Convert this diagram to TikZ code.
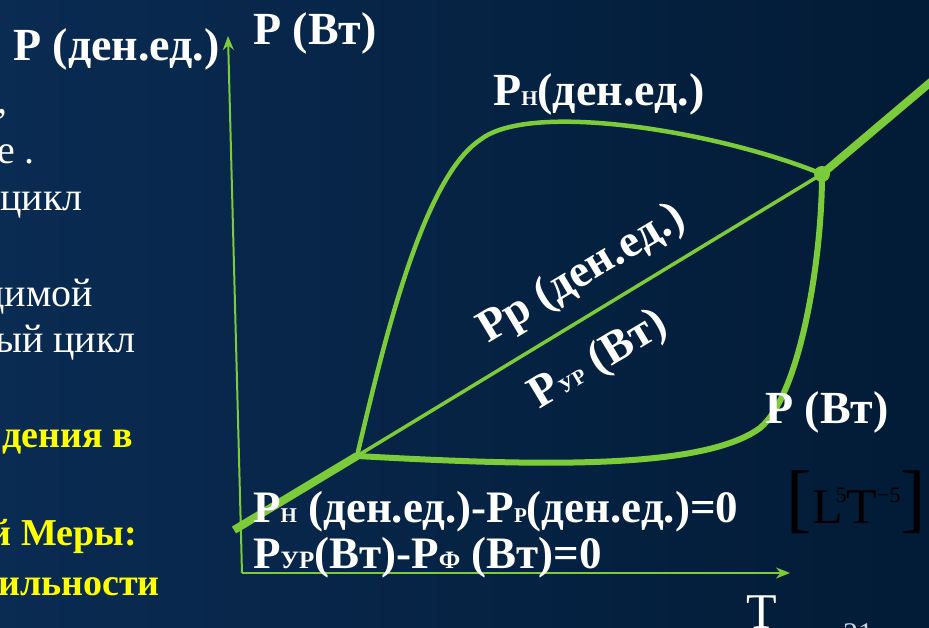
\documentclass[tikz,border=0pt]{standalone}
\usepackage{fontspec}
\setmainfont{Liberation Serif}
\usepackage{xcolor}
\usepackage{tikz}
\usetikzlibrary{arrows.meta, calc}
\definecolor{PGreen}{HTML}{7CCB3A}
\definecolor{PYellow}{HTML}{FFFF00}
\definecolor{PBgLeft}{HTML}{0A2B52}
\definecolor{PBgMid}{HTML}{003E73}
\definecolor{PBgRight}{HTML}{021B36}
\definecolor{PNum}{HTML}{C8D4E4}
\newcommand{\idx}[1]{{\fontsize{21}{21}\selectfont #1}}
\newcommand{\idxw}[1]{{\fontsize{25}{25}\selectfont #1}}
\newcommand{\brk}[1]{{\fontsize{76}{76}\selectfont #1}}
\newcommand{\pw}[1]{\raisebox{21pt}{\fontsize{22}{22}\selectfont #1}}

\begin{document}
\begin{tikzpicture}[x=1pt, y=-1pt,
    lbl/.style={text=white, font=\bfseries\fontsize{46}{46}\selectfont,
                inner sep=0pt, anchor=base west},
    eqn/.style={lbl, font=\bfseries\fontsize{45}{45}\selectfont},
    frag/.style={text=white, font=\fontsize{40}{40}\selectfont,
                 inner sep=0pt, anchor=base east},
    note/.style={text=PYellow, font=\bfseries\fontsize{38}{38}\selectfont,
                 inner sep=0pt, anchor=base east},
    axisarrow/.style={PGreen, line width=2pt, -{Stealth[length=14pt, width=11pt]}},
    mainline/.style={PGreen, line width=8pt},
    loopline/.style={PGreen, line width=4.5pt}]
  \useasboundingbox (0,0) rectangle (929,627);
  \clip (0,0) rectangle (929,627);
  \shade[left color=PBgLeft, middle color=PBgMid, right color=PBgRight]
    (0,0) rectangle (929,627);

  \node[frag] (f1) at (8,113)   {,};
  \node[frag] (f2) at (35,163)  {е .};
  \node[frag] (f3) at (83,210)  {цикл};
  \node[frag] (f4) at (93,306)  {димой};
  \node[frag] (f5) at (136,352) {ый цикл};
  \node[note] (n1) at (133,447) {дения в};
  \node[note] (n2) at (137,545) {й Меры:};
  \node[note] (n3) at (160,595) {ильности};

  \coordinate (O)    at (242,573);
  \coordinate (ytop) at (228,36);
  \coordinate (xend) at (790,573);
  \coordinate (s)    at (234,530);
  \coordinate (A)    at (357,456);
  \coordinate (B)    at (822,174);
  \coordinate (far)  at (945,70);

  \draw[axisarrow] (O) -- (ytop);
  \draw[axisarrow] (O) -- (xend);

  \draw[loopline] (A) .. controls (380,360) and (420,180) .. (480,140)
                      .. controls (530,100) and (720,132) .. (B);
  \draw[loopline, line width=6pt] (A) .. controls (520,465) and (700,472) .. (760,428)
                      .. controls (800,395) and (822,260) .. (B);
  \draw[mainline] (s) -- (A);
  \draw[PGreen, line width=3.5pt] (A) -- (B);
  \draw[mainline] (B) -- (far);
  \fill[PGreen] (B) circle (8);

  \node[lbl] (yden) at (13,60)  {P (ден.ед.)};
  \node[lbl] (yvt)  at (253,44) {P (Вт)};
  \node[lbl] (pn)   at (493,105) {P\idx{Н}(ден.ед.)};
  \node[lbl] (pvt)  at (765,423) {P (Вт)};
  \node[lbl, anchor=base, rotate=31] (pr)  at (588,284) {Pр (ден.ед.)};
  \node[lbl, anchor=base, rotate=31] (pur) at (605,370) {P\idx{УР} (Вт)};
  \node[eqn] (eq1) at (253,522) {P\idx{Н} (ден.ед.)-P\idx{Р}(ден.ед.)=0};
  \node[eqn] (eq2) at (253,568) {P\idxw{УР}(Вт)-P\idxw{Ф} (Вт)=0};

  \node[text=black, font=\fontsize{50}{50}\selectfont, inner sep=0pt,
        anchor=base east] (dim) at (926,523)
    {\brk{[}L\kern-7pt\pw{5}T\pw{−5}\brk{]}};
  \node[text=white, font=\fontsize{50}{50}\selectfont, inner sep=0pt,
        anchor=base west] (tlbl) at (746,628) {T};
  \node[text=PNum, font=\fontsize{30}{30}\selectfont, inner sep=0pt,
        anchor=base west] (num) at (843,643) {21};
\end{tikzpicture}
\end{document}
